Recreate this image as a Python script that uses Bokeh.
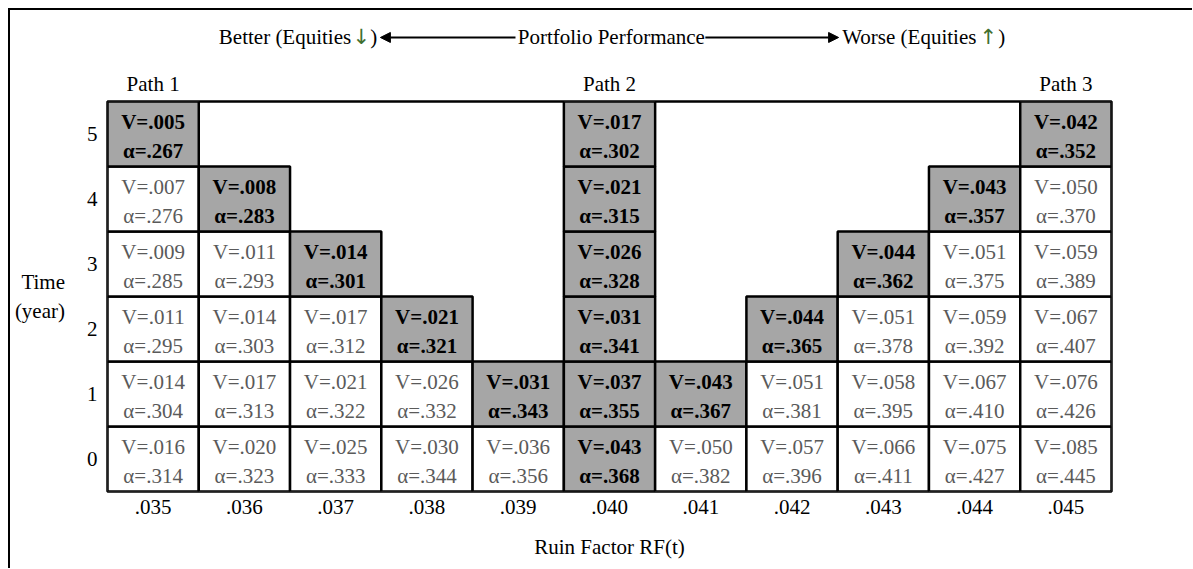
from bokeh.plotting import figure
from bokeh.layouts import column
from bokeh.models import Range1d, FixedTicker, LinearAxis, Arrow, NormalHead, ColumnDataSource
from bokeh.core.properties import value
from bokeh.embed import file_html
from bokeh.resources import INLINE

# ---------------- data ----------------
rf_labels = [".035", ".036", ".037", ".038", ".039", ".040",
             ".041", ".042", ".043", ".044", ".045"]
years = [0, 1, 2, 3, 4, 5]
path_labels = ["Path 1", "Path 2", "Path 3"]
path_cols = [0, 5, 10]

# one entry per cell: RF column index, year, V, alpha, on-path flag
cell_col = [0, 0, 0, 0, 0, 0,
            1, 1, 1, 1, 1,
            2, 2, 2, 2,
            3, 3, 3,
            4, 4,
            5, 5, 5, 5, 5, 5,
            6, 6,
            7, 7, 7,
            8, 8, 8, 8,
            9, 9, 9, 9, 9,
            10, 10, 10, 10, 10, 10]
cell_year = [0, 1, 2, 3, 4, 5,
             0, 1, 2, 3, 4,
             0, 1, 2, 3,
             0, 1, 2,
             0, 1,
             0, 1, 2, 3, 4, 5,
             0, 1,
             0, 1, 2,
             0, 1, 2, 3,
             0, 1, 2, 3, 4,
             0, 1, 2, 3, 4, 5]
cell_v = [0.016, 0.014, 0.011, 0.009, 0.007, 0.005,
          0.020, 0.017, 0.014, 0.011, 0.008,
          0.025, 0.021, 0.017, 0.014,
          0.030, 0.026, 0.021,
          0.036, 0.031,
          0.043, 0.037, 0.031, 0.026, 0.021, 0.017,
          0.050, 0.043,
          0.057, 0.051, 0.044,
          0.066, 0.058, 0.051, 0.044,
          0.075, 0.067, 0.059, 0.051, 0.043,
          0.085, 0.076, 0.067, 0.059, 0.050, 0.042]
cell_alpha = [0.314, 0.304, 0.295, 0.285, 0.276, 0.267,
              0.323, 0.313, 0.303, 0.293, 0.283,
              0.333, 0.322, 0.312, 0.301,
              0.344, 0.332, 0.321,
              0.356, 0.343,
              0.368, 0.355, 0.341, 0.328, 0.315, 0.302,
              0.382, 0.367,
              0.396, 0.381, 0.365,
              0.411, 0.395, 0.378, 0.362,
              0.427, 0.410, 0.392, 0.375, 0.357,
              0.445, 0.426, 0.407, 0.389, 0.370, 0.352]
cell_path = [0, 0, 0, 0, 0, 1,
             0, 0, 0, 0, 1,
             0, 0, 0, 1,
             0, 0, 1,
             0, 1,
             1, 1, 1, 1, 1, 1,
             0, 1,
             0, 0, 1,
             0, 0, 0, 1,
             0, 0, 0, 0, 1,
             0, 0, 0, 0, 0, 1]

# header pieces (text, x position in column units, alignment, colour, font)
header_text = ["Better (Equities", "\u2193", ")", "Portfolio Performance",
               "Worse (Equities", "\u2191", ")"]
header_x = [2.17, 2.28, 2.38, 5.02, 9.02, 9.15, 9.26]
header_align = ["right", "center", "left", "center", "right", "center", "left"]
header_color = ["black", "#3f6f2f", "black", "black", "black", "#3f6f2f", "black"]
header_font = ["Liberation Serif", "DejaVu Sans", "Liberation Serif", "Liberation Serif",
               "Liberation Serif", "DejaVu Sans", "Liberation Serif"]

FONT = "Liberation Serif"
FS = "21px"
W = 1182
LEFT, RIGHT = 97, 81


def fmt(v):
    return ("%.3f" % v)[1:]


xr = Range1d(-0.5, 10.5)

# ---------------- header strip ----------------
hdr = figure(width=W, height=58, x_range=xr, y_range=Range1d(0, 1),
             output_backend="svg", toolbar_location=None,
             x_axis_location=None, y_axis_location=None,
             min_border_left=LEFT, min_border_right=RIGHT,
             min_border_top=0, min_border_bottom=0)
hdr.outline_line_color = None
hdr.xgrid.grid_line_color = None
hdr.ygrid.grid_line_color = None
HY = 0.535
hsrc = ColumnDataSource(dict(x=header_x, y=[HY] * len(header_x), t=header_text,
                             a=header_align, c=header_color, f=header_font))
hdr.text(x="x", y="y", text="t", text_align="a", text_color="c", text_font="f",
         source=hsrc, text_font_size=value(FS), text_baseline="middle")
hdr.add_layout(Arrow(end=NormalHead(size=10, fill_color="black", line_color="black"),
                     x_start=3.97, y_start=HY, x_end=2.49, y_end=HY,
                     line_width=2, line_color="black"))
hdr.add_layout(Arrow(end=NormalHead(size=10, fill_color="black", line_color="black"),
                     x_start=6.05, y_start=HY, x_end=7.51, y_end=HY,
                     line_width=2, line_color="black"))

# ---------------- main grid ----------------
src = ColumnDataSource(dict(
    x=cell_col,
    y=cell_year,
    vtext=["V=" + fmt(v) for v in cell_v],
    atext=["\u03b1=" + fmt(a) for a in cell_alpha],
    fill=["#a6a6a6" if f else "white" for f in cell_path],
    color=["black" if f else "#5a5a5a" for f in cell_path],
    style=["bold" if f else "normal" for f in cell_path],
))

p = figure(width=W, height=500, x_range=xr, y_range=Range1d(-0.5, 5.5),
           output_backend="svg", toolbar_location=None,
           min_border_left=LEFT, min_border_right=RIGHT,
           min_border_top=33, min_border_bottom=77)
p.xgrid.grid_line_color = None
p.ygrid.grid_line_color = None
p.outline_line_color = "black"
p.outline_line_width = 2.5

p.rect(x="x", y="y", width=1, height=1, source=src,
       fill_color="fill", line_color="black", line_width=2.5)
p.text(x="x", y="y", text="vtext", source=src, y_offset=-12,
       text_font=value(FONT), text_font_size=value(FS),
       text_color="color", text_font_style="style",
       text_align="center", text_baseline="middle")
p.text(x="x", y="y", text="atext", source=src, y_offset=17,
       text_font=value(FONT), text_font_size=value(FS),
       text_color="color", text_font_style="style",
       text_align="center", text_baseline="middle")

top = LinearAxis(ticker=FixedTicker(ticks=path_cols),
                 major_label_overrides={c: l for c, l in zip(path_cols, path_labels)})
p.add_layout(top, "above")
top.major_label_standoff = 6

bottom = p.below[0]
bottom.ticker = FixedTicker(ticks=list(range(len(rf_labels))))
bottom.major_label_overrides = {i: l for i, l in enumerate(rf_labels)}
bottom.axis_label = "Ruin Factor RF(t)"
bottom.major_label_standoff = 8
bottom.axis_label_standoff = 18

left = p.left[0]
left.ticker = FixedTicker(ticks=years)
left.major_label_overrides = {y: str(y) for y in years}
left.axis_label = "Time\n(year)"
left.axis_label_orientation = "horizontal"
left.major_label_standoff = 10
left.axis_label_standoff = 19

for ax in (top, bottom, left):
    ax.axis_line_color = None
    ax.major_tick_line_color = None
    ax.minor_tick_line_color = None
    ax.major_tick_out = 0
    ax.major_tick_in = 0
    ax.minor_tick_out = 0
    ax.minor_tick_in = 0
    ax.major_label_text_font = FONT
    ax.major_label_text_font_size = FS
    ax.major_label_text_color = "black"
    ax.axis_label_text_font = FONT
    ax.axis_label_text_font_size = FS
    ax.axis_label_text_font_style = "normal"
    ax.axis_label_text_color = "black"

layout = column(hdr, p)
layout.styles = {"margin-left": "8px", "margin-top": "8px",
                 "border-left": "2px solid black", "border-top": "2px solid black"}

open("out.html", "w").write(file_html(layout, INLINE))
